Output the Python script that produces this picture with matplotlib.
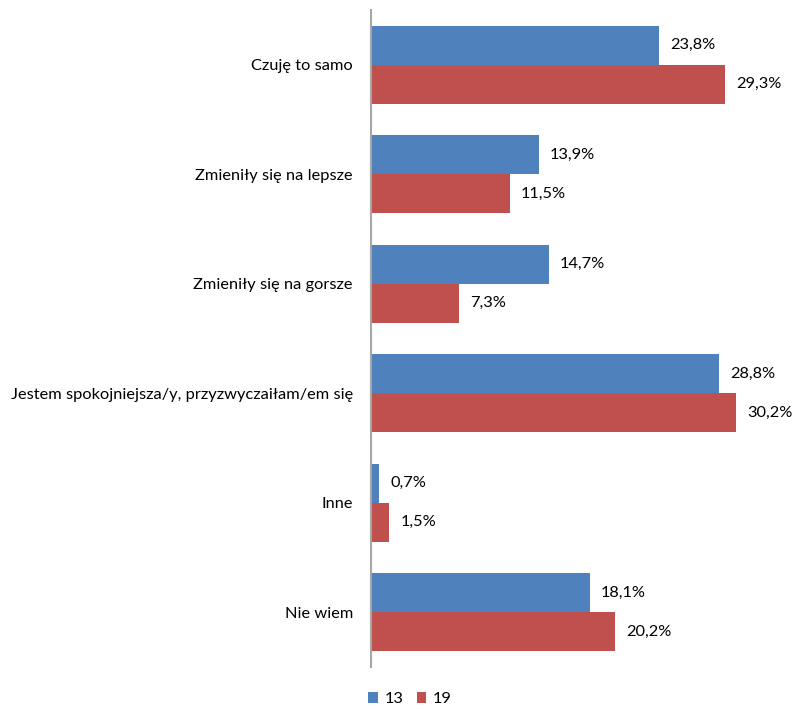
import matplotlib
matplotlib.use("Agg")
import matplotlib.pyplot as plt
import numpy as np

categories = ["Czuję to samo", "Zmieniły się na lepsze", "Zmieniły się na gorsze",
              "Jestem spokojniejsza/y, przyzwyczaiłam/em się", "Inne", "Nie wiem"]
vals_13 = [23.8, 13.9, 14.7, 28.8, 0.7, 18.1]
vals_19 = [29.3, 11.5, 7.3, 30.2, 1.5, 20.2]
series_names = ["13", "19"]

blue = "#4F81BD"
red = "#C0504D"

plt.rcParams['font.family'] = ['Lato', 'DejaVu Sans']
plt.rcParams['font.size'] = 11.8

fig = plt.figure(figsize=(7.93, 7.09), dpi=100)
left = 371 / 793
ax = fig.add_axes([left, 1 - 667 / 709, 1 - left, (667 - 10) / 709])

y = np.arange(len(categories))
h = 0.357
b1 = ax.barh(y - h / 2, vals_13, height=h, color=blue, label=series_names[0])
b2 = ax.barh(y + h / 2, vals_19, height=h, color=red, label=series_names[1])

for bars, vals in ((b1, vals_13), (b2, vals_19)):
    for bar, v in zip(bars, vals):
        ax.annotate(f"{v:.1f}%".replace(".", ","),
                    (v, bar.get_y() + bar.get_height() / 2),
                    xytext=(8, 0), textcoords="offset points",
                    va="center", ha="left", color="#000000")

ax.set_xlim(0, (793 - 371) / 12.09)
ax.set_ylim(len(categories) - 0.5, -0.5)
ax.set_yticks(y)
ax.set_yticklabels(categories)
ax.tick_params(axis="y", length=0, pad=13)
ax.set_xticks([])
for s in ["top", "right", "bottom"]:
    ax.spines[s].set_visible(False)
ax.spines["left"].set_color("#A6A6A6")
ax.spines["left"].set_linewidth(1.5)

fig.legend(handles=[b1, b2], labels=series_names, loc="lower center",
           bbox_to_anchor=(410 / 793, -0.017), ncol=2, frameon=False,
           handlelength=0.6, handleheight=0.6, handletextpad=0.4, columnspacing=0.8)

fig.savefig("out.png", dpi=100)
